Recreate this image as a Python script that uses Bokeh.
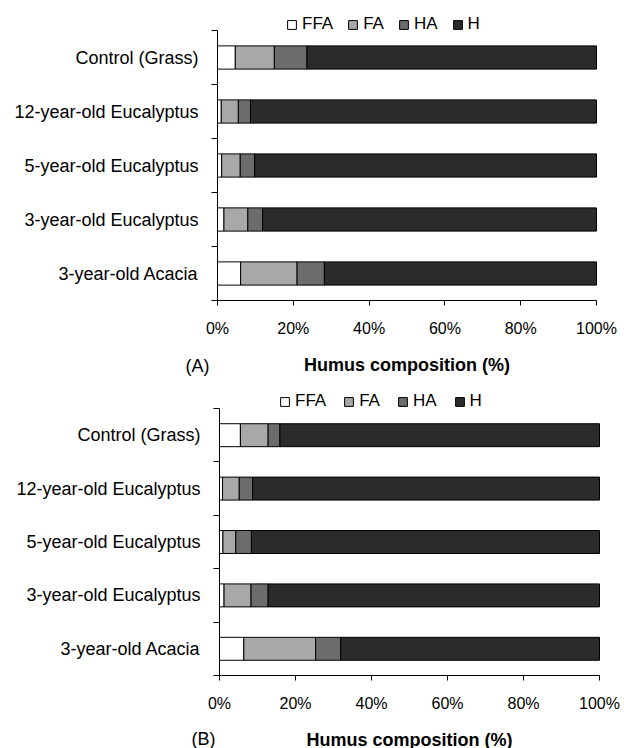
from bokeh.plotting import figure
from bokeh.models import ColumnDataSource, FixedTicker, Range1d, Label
from bokeh.layouts import column
from bokeh.embed import file_html
from bokeh.resources import INLINE

categories = ["Control (Grass)", "12-year-old Eucalyptus", "5-year-old Eucalyptus",
              "3-year-old Eucalyptus", "3-year-old Acacia"]
series = ["FFA", "FA", "HA", "H"]

# Panel (A)
ffa_a = [4.7, 1.0, 1.1, 1.7, 6.1]
fa_a = [10.3, 4.5, 4.9, 6.3, 14.9]
ha_a = [8.6, 3.2, 3.8, 3.9, 7.2]
h_a = [76.4, 91.3, 90.2, 88.1, 71.8]

# Panel (B)
ffa_b = [5.5, 0.8, 0.9, 1.2, 6.4]
fa_b = [7.3, 4.4, 3.4, 7.1, 18.9]
ha_b = [3.1, 3.5, 4.1, 4.5, 6.6]
h_b = [84.1, 91.3, 91.6, 87.2, 68.1]

x_ticks = [0, 20, 40, 60, 80, 100]
x_tick_labels = ["0%", "20%", "40%", "60%", "80%", "100%"]
x_title = "Humus composition (%)"
panel_tags = ["(A)", "(B)"]

colors = ["#ffffff", "#a8a8a8", "#6c6c6c", "#2b2b2b"]
FONT = "Liberation Sans"
W = 624


def make_panel(vals, tag, height, ax_left, ax_right, ax_top, ax_bottom,
               leg_x, leg_center, leg_spacing, tag_x, tag_center):
    n = len(categories)
    # pixel layout of the plotting area -> data ranges spanning the whole canvas
    ppx = (ax_right - ax_left) / 100.0
    ppy = (ax_bottom - ax_top) / float(n)
    xr = Range1d(-ax_left / ppx, (W - ax_left) / ppx)
    yr = Range1d(-(height - ax_bottom) / ppy, n + ax_top / ppy)

    ypos = [n - 0.5 - i for i in range(n)]
    data = {"y": ypos, "cat": categories}
    for s, v in zip(series, vals):
        data[s] = v
    src = ColumnDataSource(data)
    p = figure(width=W, height=height, output_backend="svg", toolbar_location=None,
               x_range=xr, y_range=yr,
               min_border_left=0, min_border_right=0, min_border_top=0, min_border_bottom=0)
    p.hbar_stack(series, y="y", height=0.43, source=src, color=colors,
                 line_color="black", line_width=1, legend_label=series)
    p.grid.visible = False
    p.outline_line_color = None
    p.background_fill_color = "white"
    p.border_fill_color = "white"

    xa = p.xaxis[0]
    xa.fixed_location = 0
    xa.bounds = (0, 100)
    xa.ticker = FixedTicker(ticks=x_ticks)
    xa.major_label_overrides = {t: l for t, l in zip(x_ticks, x_tick_labels)}
    xa.minor_tick_line_color = None
    xa.major_tick_out = 5
    xa.major_tick_in = 0
    xa.major_label_standoff = 14
    xa.major_label_text_font = FONT
    xa.major_label_text_font_size = "16px"
    xa.major_label_text_color = "black"
    xa.axis_line_color = "black"
    xa.major_tick_line_color = "black"
    xa.axis_label = x_title
    xa.axis_label_text_font = FONT
    xa.axis_label_text_font_style = "bold"
    xa.axis_label_text_font_size = "18px"
    xa.axis_label_text_color = "black"
    xa.axis_label_standoff = 15

    ya = p.yaxis[0]
    ya.fixed_location = 0
    ya.bounds = (0, n)
    ya.ticker = FixedTicker(ticks=ypos, minor_ticks=list(range(n + 1)))
    ya.major_label_overrides = {y: c for y, c in zip(ypos, categories)}
    ya.major_tick_out = 0
    ya.major_tick_in = 0
    ya.minor_tick_out = 6
    ya.minor_tick_in = 0
    ya.minor_tick_line_color = "black"
    ya.axis_line_color = "black"
    ya.major_label_standoff = 13
    ya.major_label_text_font = FONT
    ya.major_label_text_font_size = "18px"
    ya.major_label_text_color = "black"

    leg = p.legend[0]
    leg_h = 18
    leg.orientation = "horizontal"
    leg.location = (leg_x, height - leg_center - leg_h / 2.0)
    leg.border_line_color = None
    leg.background_fill_alpha = 0
    leg.padding = 0
    leg.margin = 0
    leg.spacing = leg_spacing
    leg.glyph_width = 11
    leg.glyph_height = 11
    leg.label_standoff = 5
    leg.label_height = leg_h
    leg.label_text_font = FONT
    leg.label_text_font_size = "17px"
    leg.label_text_color = "black"
    leg.label_text_baseline = "middle"

    p.add_layout(Label(x=(tag_x - ax_left) / ppx, y=-(tag_center - ax_bottom) / ppy,
                       text=tag, text_font=FONT, text_font_size="18px",
                       text_align="center", text_baseline="middle", text_color="black"))
    return p


pa = make_panel([ffa_a, fa_a, ha_a, h_a], panel_tags[0], 380,
                217, 596, 30, 300, 286, 25, 14, 197, 365)
pb = make_panel([ffa_b, fa_b, ha_b, h_b], panel_tags[1], 368,
                219, 599, 28, 295, 279, 22, 17, 203, 358)

layout = column(pa, pb, spacing=0)
open("out.html", "w").write(file_html(layout, INLINE))
